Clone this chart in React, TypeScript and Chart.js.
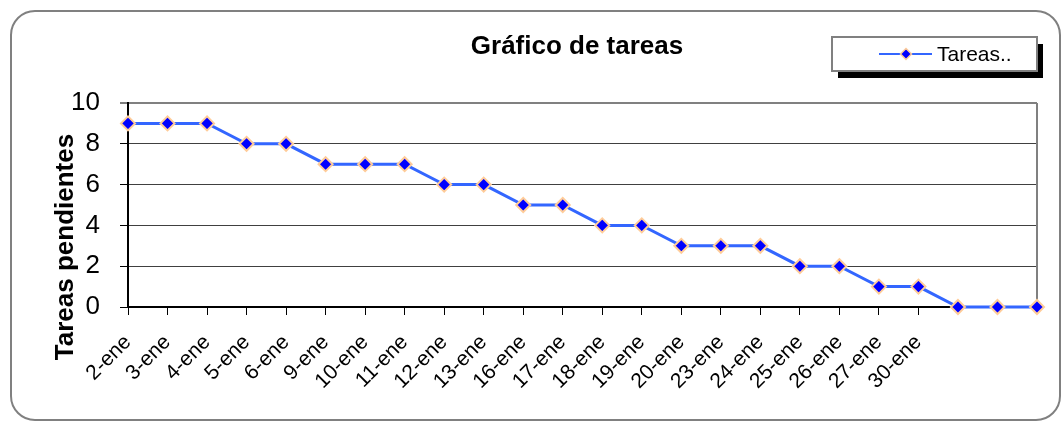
import React, { useEffect, useRef } from 'react';
import { Chart, registerables } from 'chart.js';

Chart.register(...registerables);

const categories = ['2-ene', '3-ene', '4-ene', '5-ene', '6-ene', '9-ene', '10-ene', '11-ene', '12-ene', '13-ene', '16-ene', '17-ene', '18-ene', '19-ene', '20-ene', '23-ene', '24-ene', '25-ene', '26-ene', '27-ene', '30-ene', '', '', ''];
const pendingTasks = [9, 9, 9, 8, 8, 7, 7, 7, 6, 6, 5, 5, 4, 4, 3, 3, 3, 2, 2, 1, 1, 0, 0, 0];
const yMin = 0;
const yMax = 10;
const yStep = 2;
const labelledCount = 21;
const chartTitle = 'Gráfico de tareas';
const yAxisTitle = 'Tareas pendientes';
const seriesName = 'Tareas..';

const FONT = '"Liberation Sans", Arial, Helvetica, sans-serif';
const LINE_COLOR = '#3366FF';
const MARKER_FILL = '#0000FF';
const MARKER_EDGE = '#FFCC99';

function diamond(ctx: CanvasRenderingContext2D, x: number, y: number, r: number, lw: number) {
  ctx.beginPath();
  ctx.moveTo(x, y - r);
  ctx.lineTo(x + r, y);
  ctx.lineTo(x, y + r);
  ctx.lineTo(x - r, y);
  ctx.closePath();
  ctx.fillStyle = MARKER_FILL;
  ctx.fill();
  ctx.lineWidth = lw;
  ctx.strokeStyle = MARKER_EDGE;
  ctx.stroke();
}

const decorPlugin = {
  id: 'decor',
  beforeDraw(chart: any) {
    const ctx = chart.ctx as CanvasRenderingContext2D;
    ctx.save();
    ctx.fillStyle = '#ffffff';
    ctx.fillRect(0, 0, chart.width, chart.height);
    // outer rounded frame
    const fx = 11, fy = 11, fw = chart.width - 12, fh = chart.height - 12, r = 24;
    ctx.beginPath();
    ctx.moveTo(fx + r, fy);
    ctx.lineTo(fx + fw - r, fy);
    ctx.arcTo(fx + fw, fy, fx + fw, fy + r, r);
    ctx.lineTo(fx + fw, fy + fh - r);
    ctx.arcTo(fx + fw, fy + fh, fx + fw - r, fy + fh, r);
    ctx.lineTo(fx + r, fy + fh);
    ctx.arcTo(fx, fy + fh, fx, fy + fh - r, r);
    ctx.lineTo(fx, fy + r);
    ctx.arcTo(fx, fy, fx + r, fy, r);
    ctx.closePath();
    ctx.lineWidth = 2;
    ctx.strokeStyle = '#808080';
    ctx.stroke();

    // title
    ctx.fillStyle = '#000';
    ctx.font = `bold 26px ${FONT}`;
    ctx.textAlign = 'center';
    ctx.textBaseline = 'middle';
    ctx.fillText(chartTitle, 577, 47);

    // y axis title
    ctx.save();
    ctx.translate(66, 247);
    ctx.rotate(-Math.PI / 2);
    ctx.font = `bold 26px ${FONT}`;
    ctx.textAlign = 'center';
    ctx.textBaseline = 'middle';
    ctx.fillText(yAxisTitle, 0, 0);
    ctx.restore();

    // legend box with shadow
    const lx = 832, ly = 37, lw = 205, lh = 34;
    ctx.fillStyle = '#000';
    ctx.fillRect(lx + 6, ly + 7, lw, lh);
    ctx.fillStyle = '#fff';
    ctx.fillRect(lx, ly, lw, lh);
    ctx.lineWidth = 2;
    ctx.strokeStyle = '#808080';
    ctx.strokeRect(lx, ly, lw, lh);
    const my = ly + lh / 2;
    ctx.beginPath();
    ctx.moveTo(879, my);
    ctx.lineTo(932, my);
    ctx.lineWidth = 2;
    ctx.strokeStyle = LINE_COLOR;
    ctx.stroke();
    diamond(ctx, 906, my, 5.5, 1.5);
    ctx.fillStyle = '#000';
    ctx.font = `21px ${FONT}`;
    ctx.textAlign = 'left';
    ctx.textBaseline = 'middle';
    ctx.fillText(seriesName, 937, my + 1);
    ctx.restore();
  },
  beforeDatasetsDraw(chart: any) {
    const ctx = chart.ctx as CanvasRenderingContext2D;
    const { left, right, top, bottom } = chart.chartArea;
    const xs = chart.scales.x;
    const blackEnd = xs.getPixelForValue(labelledCount);
    ctx.save();
    // right border of plot area
    ctx.beginPath();
    ctx.moveTo(right, top);
    ctx.lineTo(right, bottom);
    ctx.lineWidth = 2;
    ctx.strokeStyle = '#808080';
    ctx.stroke();
    // category axis line
    ctx.beginPath();
    ctx.moveTo(blackEnd, bottom);
    ctx.lineTo(right, bottom);
    ctx.strokeStyle = '#808080';
    ctx.stroke();
    ctx.beginPath();
    ctx.moveTo(left, bottom);
    ctx.lineTo(blackEnd, bottom);
    ctx.strokeStyle = '#000';
    ctx.stroke();
    ctx.restore();
  },
};

export default function App() {
  const canvasRef = useRef<HTMLCanvasElement | null>(null);

  useEffect(() => {
    const canvas = canvasRef.current;
    if (!canvas) return;
    const chart = new Chart(canvas, {
      type: 'line',
      data: {
        labels: categories,
        datasets: [
          {
            label: seriesName,
            data: pendingTasks,
            borderColor: LINE_COLOR,
            borderWidth: 3,
            backgroundColor: MARKER_FILL,
            pointStyle: 'rectRot',
            pointRadius: 7,
            pointHoverRadius: 7,
            pointBackgroundColor: MARKER_FILL,
            pointBorderColor: MARKER_EDGE,
            pointBorderWidth: 2,
            tension: 0,
            fill: false,
            clip: false,
          } as any,
        ],
      },
      options: {
        responsive: false,
        animation: false,
        devicePixelRatio: 1,
        layout: { padding: { left: 0, top: 103, right: 24, bottom: 0 } },
        plugins: {
          legend: { display: false },
          title: { display: false },
          tooltip: { enabled: false },
        },
        scales: {
          x: {
            type: 'category',
            offset: false,
            border: { display: false },
            grid: {
              drawOnChartArea: false,
              drawTicks: true,
              tickLength: 8,
              tickWidth: 1,
              tickColor: (c: any) => (c.index < labelledCount ? '#000' : 'rgba(0,0,0,0)'),
              color: 'rgba(0,0,0,0)',
            },
            ticks: {
              autoSkip: false,
              minRotation: 45,
              maxRotation: 45,
              padding: 15,
              labelOffset: 0,
              color: '#000',
              font: { family: FONT, size: 21 },
            },
            afterFit: (s: any) => {
              s.height = 114;
              s.paddingLeft = 0;
              s.paddingRight = 0;
            },
          },
          y: {
            min: yMin,
            max: yMax,
            border: { display: true, color: '#000', width: 2 },
            grid: {
              color: (c: any) => {
                const v = c.tick ? c.tick.value : null;
                if (v === yMax) return '#808080';
                if (v === yMin) return 'rgba(0,0,0,0)';
                return '#404040';
              },
              lineWidth: (c: any) => (c.tick && c.tick.value === yMax ? 2 : 1),
              tickColor: '#000',
              tickLength: 8,
              tickWidth: 1,
            },
            ticks: {
              stepSize: yStep,
              padding: 20,
              color: '#000',
              font: { family: FONT, size: 26 },
            },
            afterFit: (s: any) => {
              s.width = 128;
              s.paddingTop = 0;
              s.paddingBottom = 0;
            },
          },
        },
      },
      plugins: [decorPlugin],
    });
    return () => chart.destroy();
  }, []);

  return (
    <div style={{ position: 'absolute', left: 0, top: 0, width: 1061, height: 421 }}>
      <canvas ref={canvasRef} width={1061} height={421} style={{ display: 'block', width: 1061, height: 421 }} />
    </div>
  );
}
